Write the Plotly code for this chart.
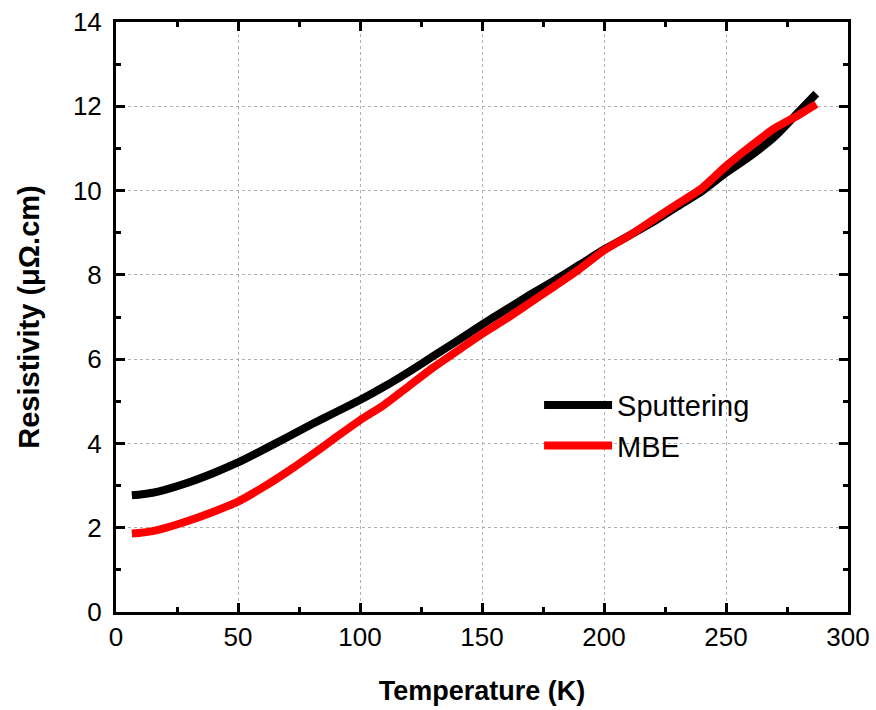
import plotly.graph_objects as go

temperature = [6.5, 10, 15, 20, 30, 40, 50, 60, 70, 80, 90, 100, 110, 120, 130, 140, 150,
               160, 170, 180, 190, 200, 210, 220, 230, 240, 250, 260, 270, 280, 287]
sputtering = [2.77, 2.79, 2.83, 2.90, 3.08, 3.30, 3.55, 3.84, 4.14, 4.45, 4.74, 5.03, 5.35,
              5.70, 6.07, 6.44, 6.82, 7.18, 7.54, 7.88, 8.24, 8.60, 8.92, 9.25, 9.62, 9.98,
              10.42, 10.82, 11.28, 11.88, 12.30]
mbe = [1.86, 1.88, 1.92, 1.99, 2.17, 2.38, 2.62, 2.95, 3.32, 3.72, 4.14, 4.55, 4.92, 5.36,
       5.80, 6.20, 6.60, 6.96, 7.35, 7.74, 8.14, 8.58, 8.92, 9.30, 9.68, 10.05, 10.58, 11.05,
       11.48, 11.80, 12.05]

x_ticks = [0, 50, 100, 150, 200, 250, 300]
y_ticks = [0, 2, 4, 6, 8, 10, 12, 14]

FONT = "Liberation Sans, Arial, sans-serif"

fig = go.Figure()
fig.add_trace(go.Scatter(x=temperature, y=sputtering, mode="lines", name="Sputtering",
                         line=dict(color="black", width=8, shape="spline", smoothing=0.6)))
fig.add_trace(go.Scatter(x=temperature, y=mbe, mode="lines", name="MBE",
                         line=dict(color="#ff0000", width=8, shape="spline", smoothing=0.6)))

axis_common = dict(
    showline=True, linecolor="black", linewidth=3, mirror="allticks",
    ticks="inside", ticklen=9, tickwidth=3, tickcolor="black",
    showgrid=True, gridcolor="#b0b0b0", griddash="dot", gridwidth=1,
    zeroline=False, automargin=False, ticklabeloverflow="allow",
    tickfont=dict(family=FONT, size=26, color="black"),
    minor=dict(ticks="inside", ticklen=5, tickwidth=3, tickcolor="black", showgrid=False),
)

fig.update_xaxes(range=[0, 300], tickvals=x_ticks, ticktext=[str(v) for v in x_ticks],
                 minor_dtick=25, ticklabelstandoff=0,
                 title=dict(text="<b>Temperature (K)</b>", font=dict(family=FONT, size=27, color="black"),
                            standoff=30),
                 **axis_common)
fig.update_yaxes(range=[0, 14], tickvals=y_ticks, ticktext=[str(v) for v in y_ticks],
                 minor_dtick=1, ticklabelstandoff=6,
                 title=dict(text="<b>Resistivity (μΩ.cm)</b>", font=dict(family=FONT, size=29, color="black"),
                            standoff=25),
                 **axis_common)

fig.update_layout(
    width=876, height=710,
    margin=dict(l=116, r=28, t=22, b=98),
    plot_bgcolor="white", paper_bgcolor="white",
    legend=dict(x=0.578, y=0.394, xanchor="left", yanchor="top",
                bgcolor="rgba(0,0,0,0)", font=dict(family=FONT, size=29, color="black"),
                itemwidth=68, tracegroupgap=0),
    showlegend=True,
)

fig.write_html(
    "out.html",
    config={"displayModeBar": False},
    post_script="document.body.style.margin='0';document.body.style.overflow='hidden';",
)
